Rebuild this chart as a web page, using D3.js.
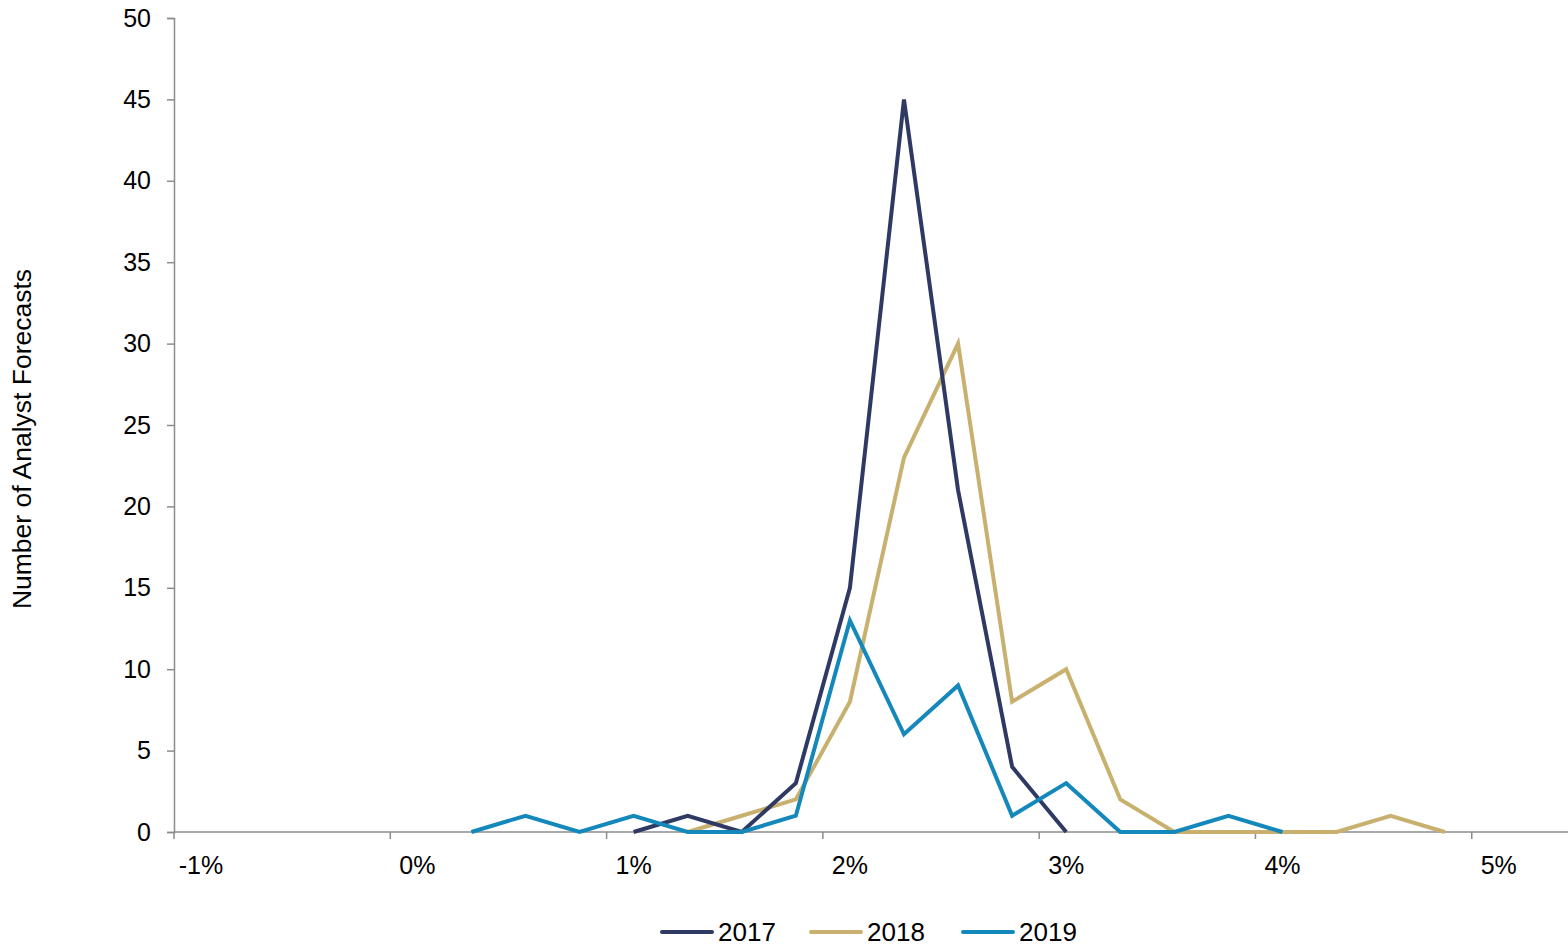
<!DOCTYPE html>
<html>
<head>
<meta charset="utf-8">
<script src="https://cdn.jsdelivr.net/npm/d3@7"></script>
<style>
  body { margin: 0; background: #fff; }
  svg { display: block; font-family: "Liberation Sans", Arial, sans-serif; }
</style>
</head>
<body>
<svg width="1568" height="946"></svg>
<script>

// forecast buckets (percent) and counts
var x2017 = [1, 1.25, 1.5, 1.75, 2, 2.25, 2.5, 2.75, 3];
var y2017 = [0, 1, 0, 3, 15, 45, 21, 4, 0];

var x2018 = [1.25, 1.5, 1.75, 2, 2.25, 2.5, 2.75, 3, 3.25, 3.5, 3.75, 4, 4.25, 4.5, 4.75];
var y2018 = [0, 1, 2, 8, 23, 30, 8, 10, 2, 0, 0, 0, 0, 1, 0];

var x2019 = [0.25, 0.5, 0.75, 1, 1.25, 1.5, 1.75, 2, 2.25, 2.5, 2.75, 3, 3.25, 3.5, 3.75, 4];
var y2019 = [0, 1, 0, 1, 0, 0, 1, 13, 6, 9, 1, 3, 0, 0, 1, 0];

var xLabels = [-1, 0, 1, 2, 3, 4, 5];
var yTicks = [0, 5, 10, 15, 20, 25, 30, 35, 40, 45, 50];

var seriesNames = ["2017", "2018", "2019"];
var colors = ["#2e3a64", "#c8b06f", "#1488bb"];

var axisColor = "#8c8c8c";

var svg = d3.select("svg");

var x = d3.scaleLinear().domain([-1.125, 5.32]).range([174, 1568]);
var y = d3.scaleLinear().domain([0, 50]).range([832, 18]);

// y axis
var yAxis = d3.axisLeft(y).tickValues(yTicks).tickSize(7).tickPadding(16);
var gy = svg.append("g").attr("transform", "translate(" + x.range()[0] + ",0)").call(yAxis);
gy.select(".domain").attr("stroke", axisColor).attr("stroke-width", 1.5);
gy.selectAll(".tick line").attr("stroke", axisColor).attr("stroke-width", 1.5);
gy.selectAll(".tick text").attr("font-size", 25).attr("fill", "#000")
  .attr("font-family", "Liberation Sans, Arial, sans-serif");

// x axis: ticks sit half a bucket left of each label
var gx = svg.append("g").attr("transform", "translate(0," + y(0) + ")");
gx.append("line")
  .attr("x1", x.range()[0]).attr("x2", x.range()[1])
  .attr("stroke", axisColor).attr("stroke-width", 1.5);
gx.selectAll(".xt").data(xLabels).enter().append("line")
  .attr("x1", function(d) { return x(d - 0.125); })
  .attr("x2", function(d) { return x(d - 0.125); })
  .attr("y1", 0).attr("y2", 7)
  .attr("stroke", axisColor).attr("stroke-width", 1.5);
gx.selectAll(".xl").data(xLabels).enter().append("text")
  .attr("x", function(d) { return x(d); })
  .attr("y", 42)
  .attr("text-anchor", "middle")
  .attr("font-size", 25)
  .text(function(d) { return d + "%"; });

// y title
svg.append("text")
  .attr("transform", "translate(31,439) rotate(-90)")
  .attr("text-anchor", "middle")
  .attr("font-size", 26.5)
  .text("Number of Analyst Forecasts");

// lines
var line = d3.line()
  .x(function(d) { return x(d[0]); })
  .y(function(d) { return y(d[1]); });

var data = [d3.zip(x2017, y2017), d3.zip(x2018, y2018), d3.zip(x2019, y2019)];
var drawOrder = [1, 0, 2];
drawOrder.forEach(function(k) {
  svg.append("path")
    .attr("d", line(data[k]))
    .attr("fill", "none")
    .attr("stroke", colors[k])
    .attr("stroke-width", 4)
    .attr("stroke-linejoin", "miter");
});

// legend
var legendX = [662, 811, 963];
var lg = svg.append("g");
seriesNames.forEach(function(name, k) {
  lg.append("line")
    .attr("x1", legendX[k]).attr("x2", legendX[k] + 50)
    .attr("y1", 932).attr("y2", 932)
    .attr("stroke", colors[k]).attr("stroke-width", 4)
    .attr("stroke-linecap", "round");
  lg.append("text")
    .attr("x", legendX[k] + 56)
    .attr("y", 941)
    .attr("font-size", 26)
    .text(name);
});

</script>
</body>
</html>
